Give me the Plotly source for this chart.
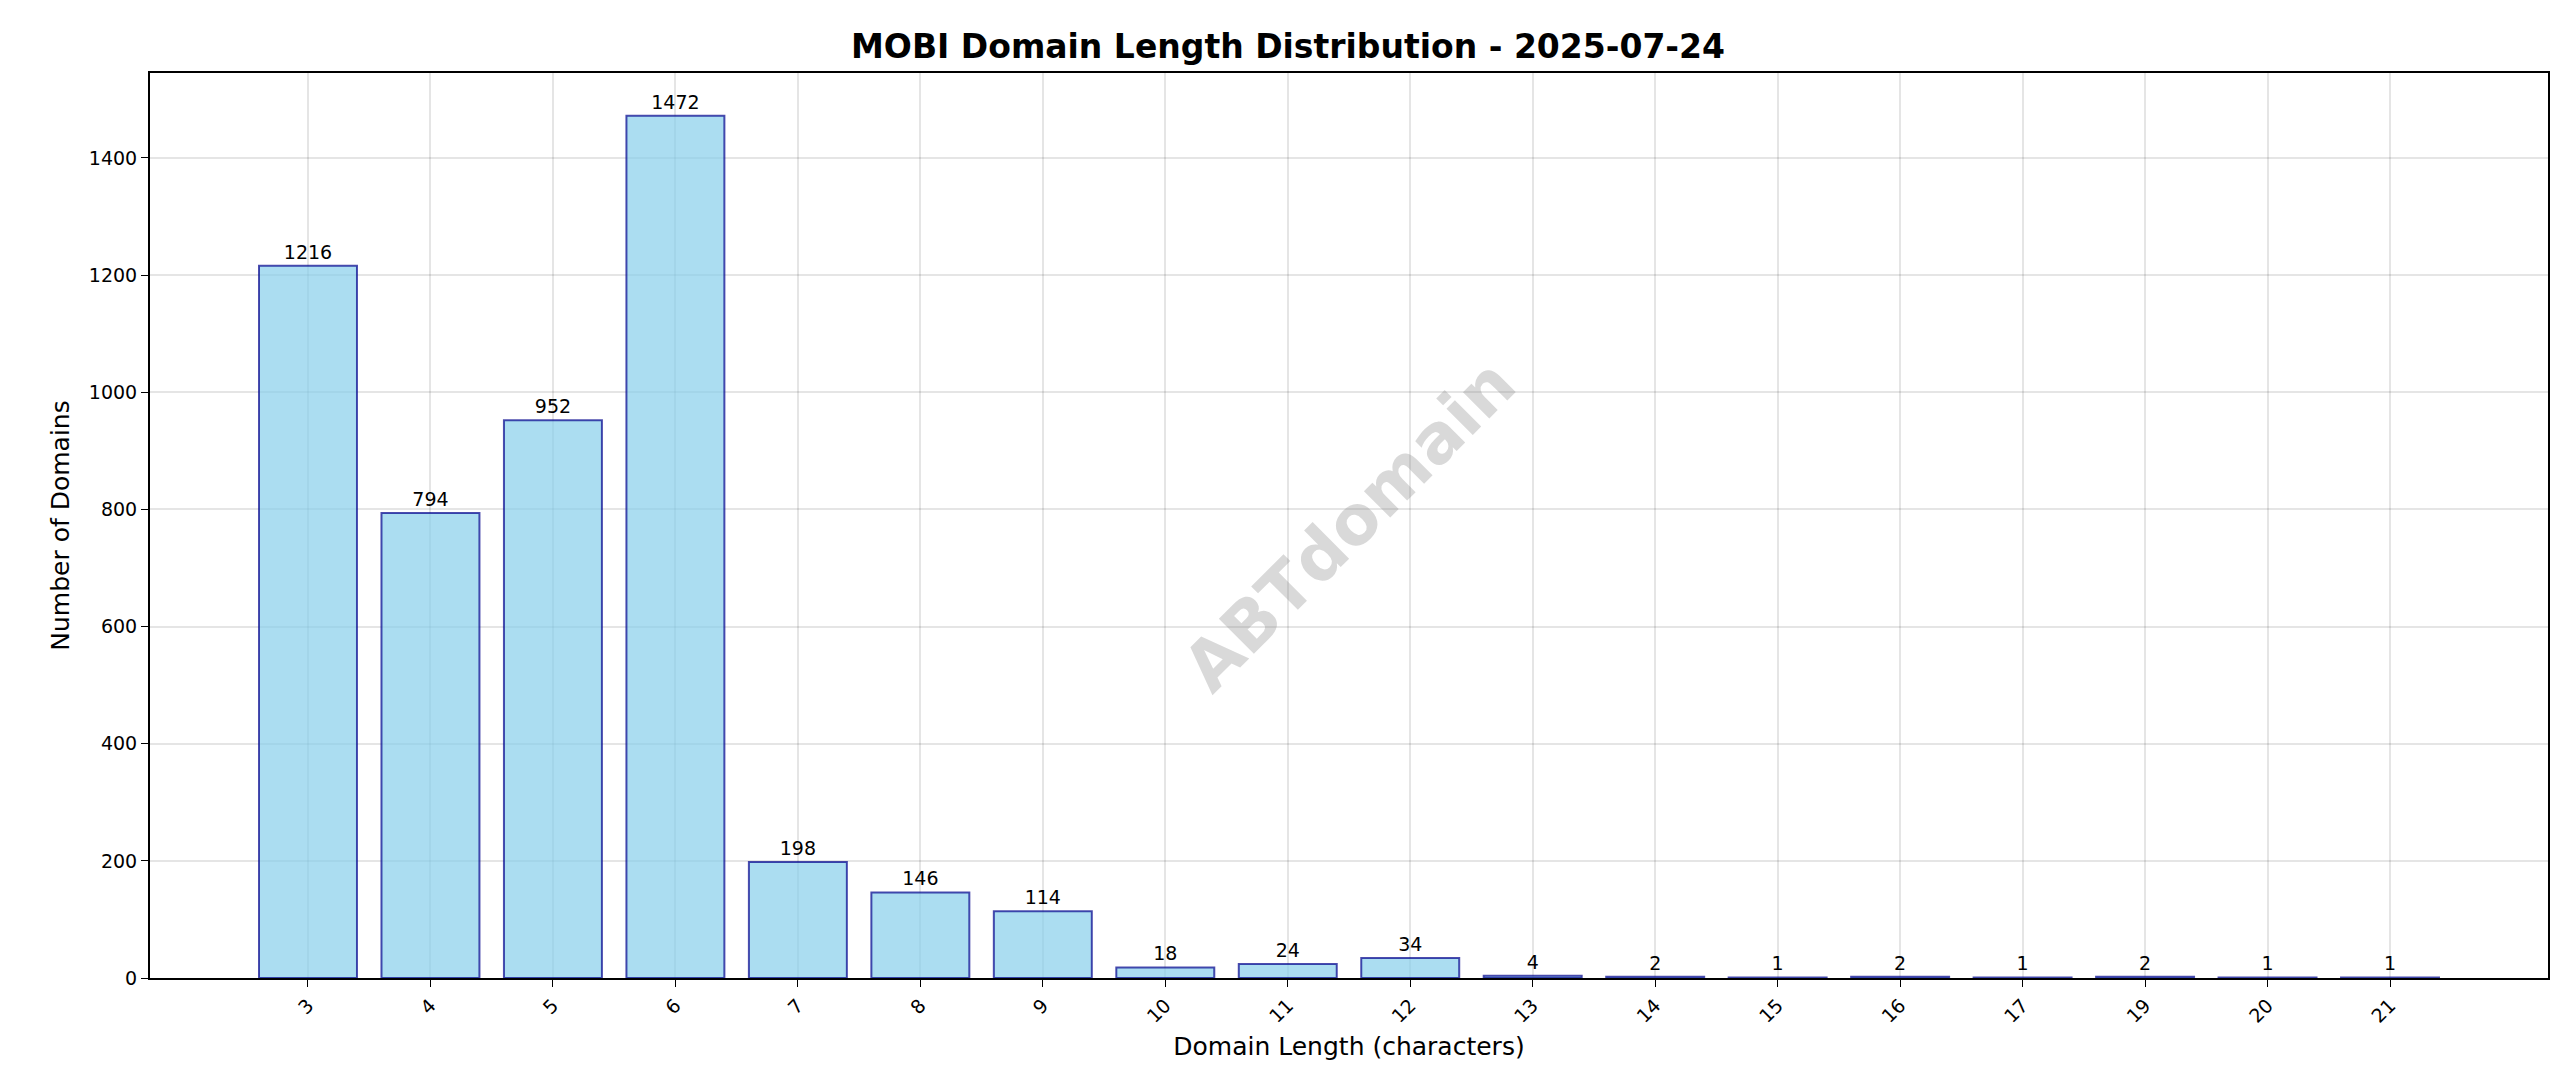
import plotly.graph_objects as go

lengths = ['3', '4', '5', '6', '7', '8', '9', '10', '11', '12', '13', '14', '15', '16', '17', '19', '20', '21']
counts = [1216, 794, 952, 1472, 198, 146, 114, 18, 24, 34, 4, 2, 1, 2, 1, 2, 1, 1]

positions = list(range(len(lengths)))

fig = go.Figure()
fig.add_trace(go.Bar(
    x=positions, y=counts, width=0.8,
    marker=dict(color='rgba(135,206,235,0.7)', line=dict(color='rgba(0,0,139,0.7)', width=2)),
    text=[str(c) for c in counts], textposition='outside',
    textfont=dict(size=19, color='black', family='DejaVu Sans'),
    cliponaxis=False,
))

fig.add_annotation(
    text='<b>ABTdomain</b>', xref='paper', yref='paper', x=0.5, y=0.5,
    showarrow=False, textangle=-45,
    font=dict(size=68, color='rgba(128,128,128,0.3)', family='DejaVu Sans'),
)

fig.update_layout(
    width=2560, height=1087,
    paper_bgcolor='white', plot_bgcolor='white',
    margin=dict(l=142, r=20, t=65, b=117),
    title=dict(text='<b>MOBI Domain Length Distribution - 2025-07-24</b>', x=0.5, xanchor='center',
               y=0.965, yanchor='middle', font=dict(size=33, color='black', family='DejaVu Sans')),
    font=dict(family='DejaVu Sans', color='black', size=19),
    showlegend=False,
    uniformtext=dict(mode=False),
)
axis_common = dict(showline=True, linecolor='black', linewidth=2, mirror=True,
                   showgrid=True, gridcolor='rgba(0,0,0,0.1)', gridwidth=1.5,
                   ticks='outside', ticklen=7, tickcolor='black', zeroline=False,
                   tickfont=dict(size=19))
fig.update_xaxes(axis_common, tickvals=positions, ticktext=lengths, tickangle=-45,
                 range=[-1.29, len(lengths) - 1 + 1.29],
                 title=dict(text='Domain Length (characters)', font=dict(size=25), standoff=12))
fig.update_yaxes(axis_common, range=[0, 1545], tickvals=[0, 200, 400, 600, 800, 1000, 1200, 1400],
                 title=dict(text='Number of Domains', font=dict(size=25), standoff=12))

fig.write_html("out.html")
